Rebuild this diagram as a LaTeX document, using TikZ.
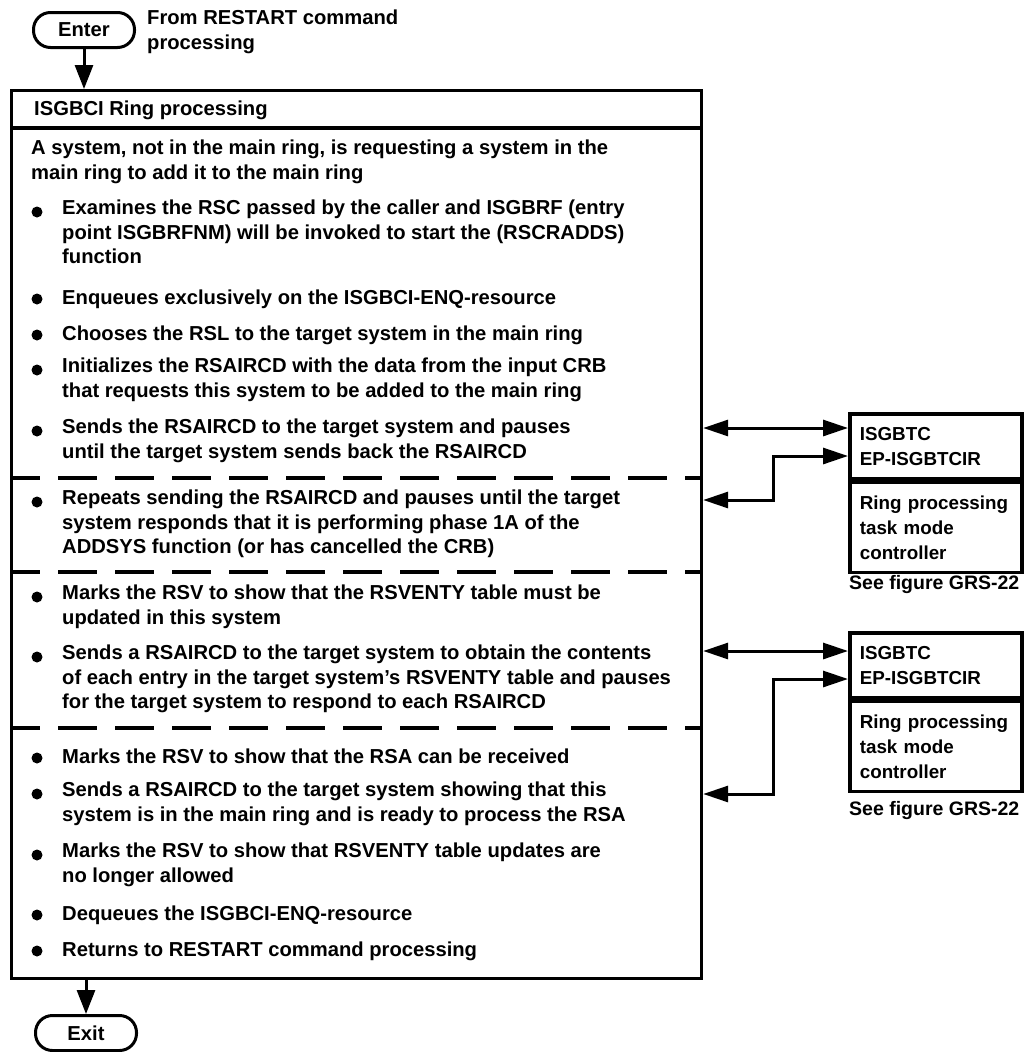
\documentclass[tikz,border=0pt]{standalone}
\usepackage{fontspec}
\setmainfont{Liberation Sans}
\usetikzlibrary{arrows.meta}
\begin{document}
\begin{tikzpicture}[x=1pt,y=-1pt,
  every node/.style={font=\bfseries\fontsize{20.2}{24.5}\selectfont},
  txt/.style={anchor=north west, inner sep=0pt, align=left, execute at begin node=\strut},
  dot/.style={circle, fill=black, inner sep=0pt, minimum size=11pt},
  pill/.style={draw, line width=3pt, rounded corners=17pt, minimum width=101pt, minimum height=35pt, inner sep=0pt},
  rbox/.style={draw, line width=3.6pt, anchor=north west, text width=152pt, inner xsep=10pt, inner ysep=0pt,
    align=left, font=\bfseries\fontsize{18.8}{25}\selectfont,
    execute at begin node={\hyphenpenalty=10000\relax}},
  seefig/.style={anchor=base west, inner sep=0pt, font=\bfseries\fontsize{19.5}{24}\selectfont},
  border/.style={line width=3.2pt},
  dashline/.style={line width=3.2pt, dash pattern=on 39pt off 18pt, dash phase=9pt},
  varr/.style={line width=3pt, -{Triangle[length=24pt,width=18pt]}},
  dbl/.style={line width=3pt, {Triangle[length=25pt,width=16pt]}-{Triangle[length=25pt,width=16pt]}},
  ]
\useasboundingbox (0,0) rectangle (1024,1052);

% terminals and the main processing box
\node[pill] (enter) at (84,30) {Enter};
\node[txt] (from) at (147,9.85) {From RESTART command\\processing};
\node[draw, border, anchor=north west, minimum width=690pt, minimum height=888pt, inner sep=0pt] (main) at (10,89) {};
\node[pill] (exit) at (86,1033) {Exit};
\draw[varr] (enter.south) -- (main.north -| enter.south);
\draw[varr] (main.south -| exit.north) -- (exit.north);

% header and section separators
\node[txt] (head) at (34,97.85) {ISGBCI Ring processing};
\draw[border] (main.west |- 0,128) -- (main.east |- 0,128);
\draw[dashline] (main.west |- 0,478) -- (main.east |- 0,478);
\draw[dashline] (main.west |- 0,572) -- (main.east |- 0,572);
\draw[dashline] (main.west |- 0,728) -- (main.east |- 0,728);

% body text
\node[txt] (intro) at (31,139.85) {A system, not in the main ring, is requesting a system in the\\main ring to add it to the main ring};

\node[dot] (d1) at (37,212) {};
\node[txt] (i1) at (62,199.85) {Examines the RSC passed by the caller and ISGBRF (entry\\point ISGBRFNM) will be invoked to start the (RSCRADDS)\\function};
\node[dot] (d2) at (37,299) {};
\node[txt] (i2) at (62,286.85) {Enqueues exclusively on the ISGBCI-ENQ-resource};
\node[dot] (d3) at (37,335) {};
\node[txt] (i3) at (62,322.85) {Chooses the RSL to the target system in the main ring};
\node[dot] (d4) at (37,370) {};
\node[txt] (i4) at (62,357.85) {Initializes the RSAIRCD with the data from the input CRB\\that requests this system to be added to the main ring};
\node[dot] (d5) at (37,431) {};
\node[txt] (i5) at (62,418.85) {Sends the RSAIRCD to the target system and pauses\\until the target system sends back the RSAIRCD};

\node[dot] (d6) at (37,502) {};
\node[txt] (i6) at (62,489.85) {Repeats sending the RSAIRCD and pauses until the target\\system responds that it is performing phase 1A of the\\ADDSYS function (or has cancelled the CRB)};

\node[dot] (d7) at (37,597) {};
\node[txt] (i7) at (62,584.85) {Marks the RSV to show that the RSVENTY table must be\\updated in this system};
\node[dot] (d8) at (37,657) {};
\node[txt] (i8) at (62,644.85) {Sends a RSAIRCD to the target system to obtain the contents\\of each entry in the target system’s RSVENTY table and pauses\\for the target system to respond to each RSAIRCD};

\node[dot] (d9) at (37,758) {};
\node[txt] (i9) at (62,745.85) {Marks the RSV to show that the RSA can be received};
\node[dot] (d10) at (37,794) {};
\node[txt] (i10) at (62,781.85) {Sends a RSAIRCD to the target system showing that this\\system is in the main ring and is ready to process the RSA};
\node[dot] (d11) at (37,855) {};
\node[txt] (i11) at (62,842.85) {Marks the RSV to show that RSVENTY table updates are\\no longer allowed};
\node[dot] (d12) at (37,915) {};
\node[txt] (i12) at (62,902.85) {Dequeues the ISGBCI-ENQ-resource};
\node[dot] (d13) at (37,951) {};
\node[txt] (i13) at (62,938.85) {Returns to RESTART command processing};

% ring processing task mode controller, first call
\node[rbox, minimum height=65pt] (tca) at (848,412) {ISGBTC\\EP-ISGBTCIR};
\node[rbox, minimum height=90pt] (tcb) at (tca.south west) {Ring processing\\task mode\\controller};
\node[seefig] (see1) at (849,589) {See figure GRS-22};
\coordinate (a1) at (main.east |- 0,428);
\coordinate (r1) at (main.east |- 0,500);
\coordinate (k1) at (773,456);
\draw[dbl] (a1) -- (tca.west |- a1);
\draw[dbl] (r1) -| (k1) -- (tca.west |- k1);

% ring processing task mode controller, second call
\node[rbox, minimum height=65pt] (tcc) at (848,631) {ISGBTC\\EP-ISGBTCIR};
\node[rbox, minimum height=90pt] (tcd) at (tcc.south west) {Ring processing\\task mode\\controller};
\node[seefig] (see2) at (849,815) {See figure GRS-22};
\coordinate (a2) at (main.east |- 0,651);
\coordinate (r2) at (main.east |- 0,794);
\coordinate (k2) at (773,679);
\draw[dbl] (a2) -- (tcc.west |- a2);
\draw[dbl] (r2) -| (k2) -- (tcc.west |- k2);
\end{tikzpicture}
\end{document}
